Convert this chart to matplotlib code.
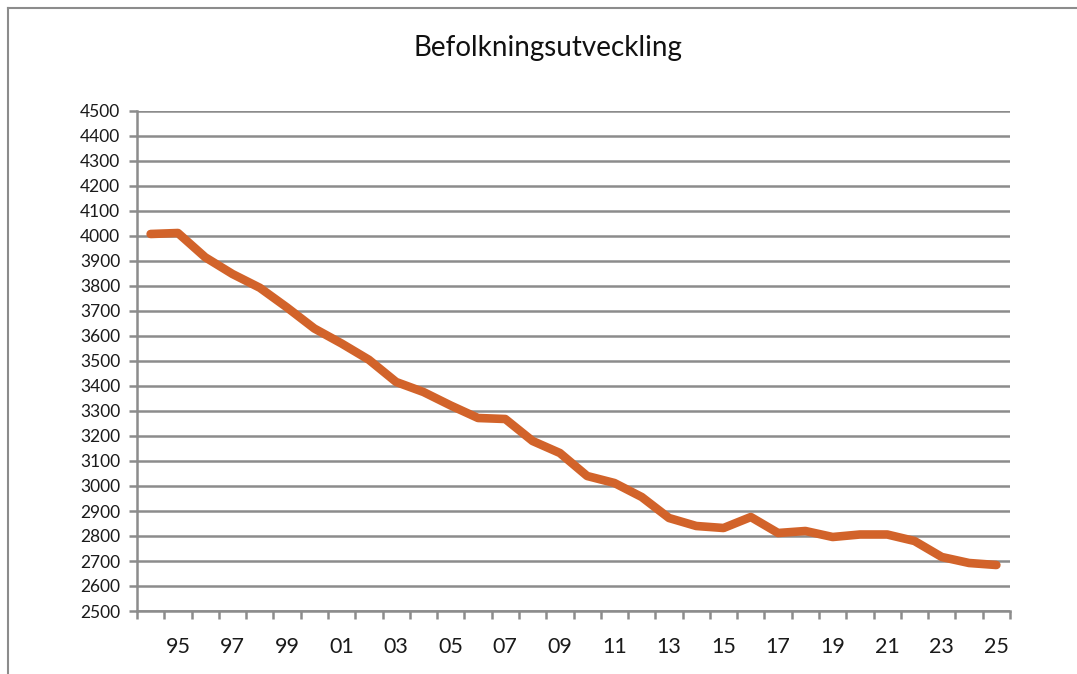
import matplotlib
matplotlib.use("Agg")
import matplotlib.pyplot as plt
import numpy as np

years = list(range(1994, 2026))
population = [4008, 4012, 3915, 3848, 3793, 3714, 3630, 3570, 3505, 3416,
              3376, 3322, 3272, 3268, 3180, 3132, 3040, 3012, 2956, 2872,
              2840, 2832, 2876, 2812, 2820, 2796, 2806, 2806, 2780, 2716,
              2692, 2684]
tick_labels = [f"{y % 100:02d}" for y in years]
title = "Befolkningsutveckling"

plt.rcParams['font.family'] = ['Lato', 'DejaVu Sans']

fig = plt.figure(figsize=(10.77, 6.74), dpi=100)
fig.patch.set_facecolor('white')

# outer frame (left and top visible)
fig.add_artist(plt.Line2D([8/1077, 8/1077], [0, 1 - 8/674], transform=fig.transFigure,
                          color='#8c8c8c', lw=1.5))
fig.add_artist(plt.Line2D([8/1077, 1], [1 - 8/674, 1 - 8/674], transform=fig.transFigure,
                          color='#8c8c8c', lw=1.5))

ax = fig.add_axes([137/1077, 1 - 611/674, (1010 - 137)/1077, 500/674])
x = np.arange(len(years))
ax.plot(x, population, color='#D2632A', lw=6.2, solid_capstyle='round',
        solid_joinstyle='round', zorder=3)

ax.set_xlim(-0.5, len(years) - 0.5)
ax.set_ylim(2500, 4500)
ax.set_yticks(np.arange(2500, 4501, 100))
ax.yaxis.grid(True, color='#8c8c8c', lw=1.8)
ax.set_axisbelow(True)

major = x[1::2]
ax.set_xticks(major)
ax.set_xticklabels([tick_labels[i] for i in major])
ax.set_xticks(np.arange(-0.5, len(years) + 0.5, 1), minor=True)
ax.tick_params(axis='x', which='major', length=0, pad=19, labelsize=15.5,
               labelcolor='#1a1a1a')
ax.tick_params(axis='x', which='minor', length=6, width=1.8, color='#8c8c8c')
ax.tick_params(axis='y', length=6, width=1.8, color='#8c8c8c', labelsize=12.5,
               labelcolor='#1a1a1a', pad=6)

for s in ['top', 'right']:
    ax.spines[s].set_visible(False)
for s in ['left', 'bottom']:
    ax.spines[s].set_color('#8c8c8c')
    ax.spines[s].set_linewidth(1.8)

fig.text(548/1077, 1 - 48/674, title, ha='center', va='center', fontsize=20, color='#111111')

fig.savefig('out.png', dpi=100)
